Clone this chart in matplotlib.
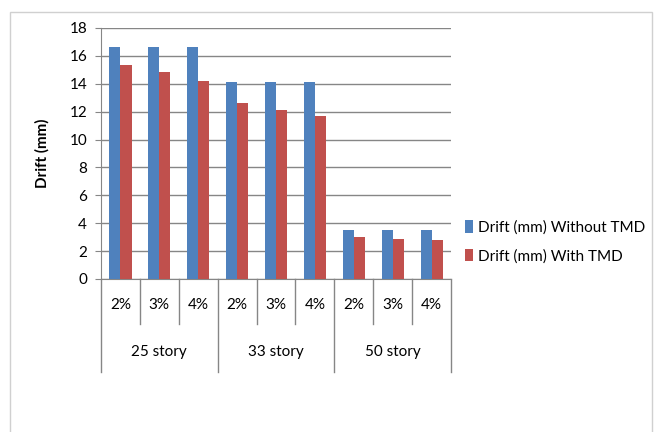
import matplotlib.pyplot as plt
import matplotlib.transforms as mtransforms
from matplotlib.patches import Rectangle

# Valores
grupos = ['25 story', '33 story', '50 story']
taxas = ['2%', '3%', '4%']
sem_tmd = [16.65, 16.65, 16.65, 14.1, 14.1, 14.1, 3.5, 3.5, 3.5]
com_tmd = [15.35, 14.85, 14.2, 12.65, 12.1, 11.7, 3.0, 2.9, 2.8]

plt.rcParams['font.family'] = ['Lato', 'DejaVu Sans']

fig = plt.figure(figsize=(6.63, 4.32), dpi=100)
ax = fig.add_axes([0.1523, 0.3542, 0.528, 0.581])

# Moldura externa clara
fig.patches.append(Rectangle((0.015, -0.01), 0.968, 0.982, transform=fig.transFigure,
                             fill=False, edgecolor='#d0d0d0', linewidth=1))

n = len(sem_tmd)
larg = 0.285
pos = [i + 0.5 for i in range(n)]
ax.bar([p - larg / 2 for p in pos], sem_tmd, width=larg, color='#4F81BD',
       label='Drift (mm) Without TMD', zorder=3)
ax.bar([p + larg / 2 for p in pos], com_tmd, width=larg, color='#C0504D',
       label='Drift (mm) With TMD', zorder=3)

ax.set_xlim(0, n)
ax.set_ylim(0, 18)
ax.set_yticks(range(0, 19, 2))
ax.tick_params(axis='y', labelsize=11, length=4, color='#868686', pad=6)
ax.set_xticks([])
ax.grid(axis='y', color='#868686', linewidth=1, zorder=0)

for lado in ['top', 'right']:
    ax.spines[lado].set_visible(False)
for lado in ['left', 'bottom']:
    ax.spines[lado].set_color('#868686')

ax.set_ylabel('Drift (mm)', fontsize=11, fontweight='bold', labelpad=14)

# Eixo de categorias em dois níveis
trans = mtransforms.blended_transform_factory(ax.transData, ax.transAxes)
for i in range(n + 1):
    if i % 3 == 0:
        ax.plot([i, i], [0, -0.37], color='#868686', linewidth=1, transform=trans, clip_on=False)
    else:
        ax.plot([i, i], [0, -0.18], color='#868686', linewidth=1, transform=trans, clip_on=False)
for i in range(n):
    ax.text(i + 0.5, -0.105, taxas[i % 3], transform=trans, ha='center', va='center', fontsize=11)
for g in range(len(grupos)):
    ax.text(g * 3 + 1.5, -0.29, grupos[g], transform=trans, ha='center', va='center', fontsize=11)

ax.legend(loc='center left', bbox_to_anchor=(1.0, 0.148), frameon=False, fontsize=11,
          handlelength=0.55, handleheight=0.9, handletextpad=0.3, labelspacing=0.9)

plt.savefig('out.png', dpi=100)
